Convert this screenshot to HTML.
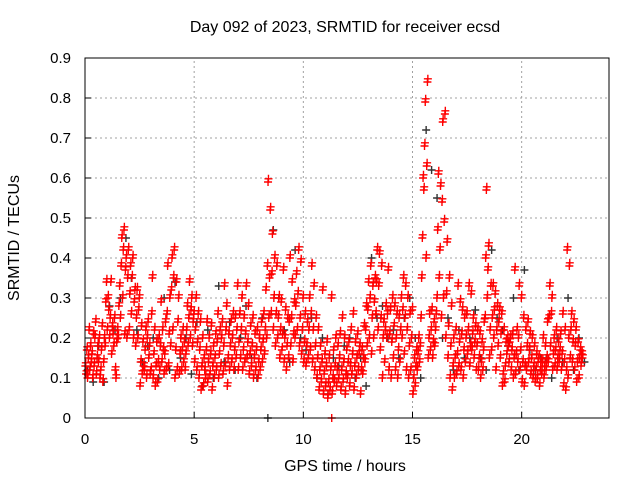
<!DOCTYPE html>
<html><head><meta charset="utf-8"><style>
body{margin:0;background:#fff;}
svg{display:block;font-family:"Liberation Sans",sans-serif;}
</style></head><body>
<svg id="chart" width="640" height="480">
<text x="345" y="32" font-size="16" text-anchor="middle">Day 092 of 2023, SRMTID for receiver ecsd</text>
<text x="345" y="471" font-size="16" text-anchor="middle">GPS time / hours</text>
<text transform="translate(19,238) rotate(-90)" font-size="16" text-anchor="middle">SRMTID / TECUs</text>
<g id="grid"></g><g id="ticks"></g><g id="marks"></g>
<rect x="85" y="58" width="524" height="360" fill="none" stroke="#000" stroke-width="1"/>
</svg>
<script>
const xTicks=[0,5,10,15,20];
const yTicks=[0,0.1,0.2,0.3,0.4,0.5,0.6,0.7,0.8,0.9];
const yTickLabels=["0","0.1","0.2","0.3","0.4","0.5","0.6","0.7","0.8","0.9"];
const redBinHours=0.1;
const redBins=[[13,11,17],[10,15,22],[12,18,14],[16,10,21],[13,20,24],[11,15,18],[14,20,10],[12,17,23],[9,14,20],[18,29,34],
[22,30,27],[20,25,34],[16,23,21],[18,25,12],[10,19,22],[20,28,33],[25,38,45],[30,42,47],[21,37,40],[20,35,42],
[22,31,38],[26,35,40],[20,29,32],[18,25,32],[20,27,30],[8,14,23],[11,19,13],[12,17,22],[10,20,24],[15,18,11],
[12,26,35],[10,16,22],[8,13,19],[9,14,20],[12,18,29],[14,22,17],[11,16,24],[12,26,38],[13,21,30],[18,32,40],
[22,35,42],[10,17,34],[12,24,30],[11,16,20],[12,17,22],[14,19,12],[16,22,28],[18,25,34],[20,27,30],[18,24,26],
[14,22,30],[12,19,26],[10,17,24],[7,13,20],[8,15,12],[10,17,24],[9,14,20],[11,16,23],[7,13,18],[10,15,21],
[12,19,26],[10,16,22],[13,20,24],[11,18,33],[13,22,28],[8,15,21],[12,18,24],[14,20,26],[12,17,25],[15,22,33],
[12,19,26],[15,22,30],[12,17,25],[14,21,33],[15,19,28],[11,16,23],[13,18,25],[10,15,21],[12,17,22],[10,14,20],
[12,17,24],[14,19,26],[16,22,32],[20,38,59],[25,35,52],[26,36,46],[22,30,40],[18,26,38],[20,25,30],[15,22,29],
[17,21,37],[14,20,27],[12,18,25],[15,24,40],[18,25,34],[14,21,29],[20,28,36],[22,31,42],[18,25,39],[16,22,30],
[14,19,26],[13,18,24],[15,22,30],[17,26,38],[14,22,33],[12,18,25],[10,15,22],[7,12,18],[9,14,32],[6,11,16],
[8,13,19],[5,9,15],[7,12,30],[6,10,17],[9,13,20],[8,12,18],[10,15,21],[7,12,25],[9,14,20],[6,11,17],
[10,14,19],[8,13,22],[11,16,26],[7,13,19],[10,15,21],[12,16,18],[6,12,17],[11,15,23],[14,22,28],[18,27,34],
[20,30,38],[16,25,33],[20,29,35],[26,34,42],[22,33,41],[17,25,38],[10,20,24],[14,22,28],[20,26,37],[12,21,27],
[10,19,30],[15,23,28],[12,20,26],[10,17,25],[14,22,30],[20,27,35],[16,25,33],[12,22,30],[10,18,26],[12,20,27],
[6,10,15],[8,13,17],[12,16,20],[14,18,25],[35,45,60],[57,68,79],[40,63,84],[15,20,26],[17,22,27],[15,19,24],
[18,22,26],[30,47,61],[35,42,58],[25,54,74],[30,49,76],[20,31,44],[15,23,35],[10,18,28],[7,13,20],[10,15,22],
[11,16,33],[13,19,29],[12,21,27],[10,17,25],[14,20,26],[16,22,33],[13,18,31],[17,21,25],[15,19,23],[12,18,22],
[12,15,21],[10,14,19],[12,17,24],[25,40,57],[30,37,43],[15,22,33],[17,25,33],[20,27,31],[12,22,28],[18,24,27],
[15,21,26],[8,11,22],[9,13,19],[16,20,18],[14,19,20],[12,17,21],[10,15,37],[11,16,22],[14,20,33],[12,17,30],
[9,14,25],[8,13,22],[12,18,24],[14,17,21],[11,15,20],[10,13,18],[9,12,16],[10,14,15],[8,12,14],[11,14,20],
[10,13,18],[12,15,24],[14,25,33],[18,26,30],[12,16,20],[13,17,22],[12,15,19],[14,17,21],[12,16,26],[8,14,22],
[7,12,42],[10,20,38],[15,22,26],[14,19,24],[12,18,22],[9,14,19],[10,15,17],[13,16,15]];
const redExtraT=[11.3];
const redExtraV=[0];
const blackBinHours=0.5;
const blackBins=[[12,9],[18,9],[28,22],[30,45],[35,22],[14,18],[20,10],[30,12],[34,15],[20,11],[24,8],[22,10],[33,14],[24,12],[20,28],[15,10],[25,0],[47,30],[22,14],[42,20],[17,25],[10,20],[6,15],[13,18],[20,10],[15,8],[40,25],[28,20],[22,15],[25,30],[20,10],[72,62],[55,20],[25,12],[22,15],[20,27],[15,12],[42,25],[22,18],[30,12],[37,17],[12,15],[15,10],[20,14],[30,12],[20,14]];

const X0=85,X1=609,Y0=418,Y1=58,XMAX=24,YMAX=0.9;
const sx=t=>X0+(t/XMAX)*(X1-X0);
const sy=v=>Y0-(v/YMAX)*(Y0-Y1);
const NS="http://www.w3.org/2000/svg";
const grid=document.getElementById('grid'),ticks=document.getElementById('ticks'),marks=document.getElementById('marks');
function mk(tag,attrs,parent){const e=document.createElementNS(NS,tag);for(const k in attrs)e.setAttribute(k,attrs[k]);parent.appendChild(e);return e;}
yTicks.forEach((v,i)=>{
  if(v>0&&v<YMAX){const g=mk('line',{x1:X0,x2:X1,y1:sy(v),y2:sy(v),stroke:'#a0a0a0','stroke-dasharray':'2,3'},grid);
  
  }
  const tk=mk('line',{x1:X0,x2:X0+6,y1:sy(v),y2:sy(v),stroke:'#000'},ticks);
  
  
  const t=mk('text',{x:X0-14,y:sy(v)+5,'font-size':15,'text-anchor':'end'},ticks);t.textContent=yTickLabels[i];
  
  
});
xTicks.forEach(v=>{
  if(v>0){const g=mk('line',{x1:sx(v),x2:sx(v),y1:Y0,y2:Y1,stroke:'#a0a0a0','stroke-dasharray':'2,3'},grid);
  
  }
  const tk=mk('line',{x1:sx(v),x2:sx(v),y1:Y0,y2:Y0-6,stroke:'#000'},ticks);
  
  
  const t=mk('text',{x:sx(v),y:Y0+26,'font-size':15,'text-anchor':'middle'},ticks);t.textContent=String(v);
  
  
});
function plus(t,v,color,name){
  const x=sx(t),y=sy(v);
  const p=mk('path',{d:`M${x-4},${y}h8M${x},${y-4}v8`,stroke:color,'stroke-width':1.4,fill:'none'},marks);
  
  
}
blackBins.forEach((bin,i)=>bin.forEach((v,j)=>plus((i+(j+0.5)/bin.length)*blackBinHours,v/100,'#333','black-point')));
redBins.forEach((bin,i)=>bin.forEach((v,j)=>{
  const t=(i+(j+0.5)/bin.length)*redBinHours;
  plus(t,v/100,'#ff0000','red-point');
  plus(t+0.02,v/100+0.008,'#ff0000','red-point');
}));
redExtraT.forEach((t,i)=>plus(t,redExtraV[i],'#ff0000','red-point'));
</script>
</body></html>
